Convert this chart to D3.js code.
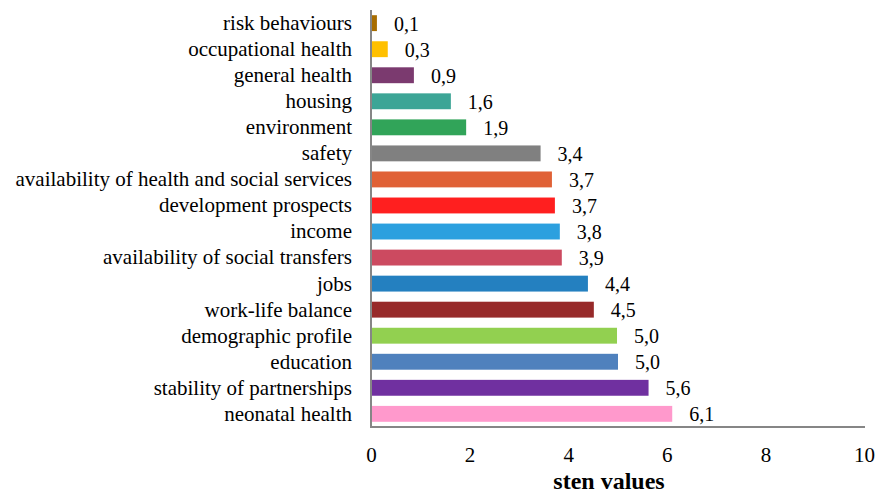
<!DOCTYPE html>
<html>
<head>
<meta charset="utf-8">
<script src="https://cdn.jsdelivr.net/npm/d3@7"></script>
<style>
  body { margin: 0; background: #fff; }
  text { font-family: "Liberation Serif", "Times New Roman", serif; fill: #000; }
</style>
</head>
<body>
<div id="chart"></div>
<script>
// categories top to bottom
const categories = [
  'risk behaviours',
  'occupational health',
  'general health',
  'housing',
  'environment',
  'safety',
  'availability of health and social services',
  'development prospects',
  'income',
  'availability of social transfers',
  'jobs',
  'work-life balance',
  'demographic profile',
  'education',
  'stability of partnerships',
  'neonatal health',
];

// sten values (labels round to one decimal)
const stenValues = [0.12, 0.34, 0.87, 1.62, 1.93, 3.44, 3.67, 3.73, 3.83, 3.87, 4.4, 4.52, 4.99, 5.01, 5.63, 6.11];

const barColors = [
  '#a86d00', '#ffc000', '#7b3a6f', '#3ca596', '#31a459', '#808080',
  '#e06136', '#ff1f1f', '#2ca0df', '#cc4a60', '#2480c0', '#972a2a',
  '#92d050', '#4f81bd', '#7030a0', '#ff99cc',
];

const xTicks = [0, 2, 4, 6, 8, 10];

const width = 881;
const height = 495;
const margin = { top: 10, right: 17, bottom: 68, left: 371 };

const svg = d3
  .select('#chart')
  .append('svg')
  .attr('width', width)
  .attr('height', height);

const x = d3
  .scaleLinear()
  .domain([0, 10])
  .range([margin.left, width - margin.right]);

const y = d3
  .scaleBand()
  .domain(categories)
  .range([margin.top, height - margin.bottom])
  .paddingInner(0.39)
  .paddingOuter(0.2);

const data = categories.map((c, i) => ({ name: c, value: stenValues[i], color: barColors[i] }));

// bars
svg
  .append('g')
  .selectAll('rect')
  .data(data)
  .enter()
  .append('rect')
  .attr('x', x(0))
  .attr('y', (d) => y(d.name))
  .attr('width', (d) => x(d.value) - x(0))
  .attr('height', y.bandwidth())
  .attr('fill', (d) => d.color);

// axis lines (gray, left + bottom only)
const axisY = height - margin.bottom;
svg
  .append('line')
  .attr('x1', x(0))
  .attr('x2', x(10) + 1)
  .attr('y1', axisY)
  .attr('y2', axisY)
  .attr('stroke', '#868686')
  .attr('stroke-width', 2);

svg
  .append('line')
  .attr('x1', x(0))
  .attr('x2', x(0))
  .attr('y1', margin.top)
  .attr('y2', axisY + 1)
  .attr('stroke', '#868686')
  .attr('stroke-width', 2);

// x tick labels
const xAxis = svg
  .append('g')
  .attr('transform', `translate(0,${axisY})`)
  .call(d3.axisBottom(x).tickValues(xTicks).tickSize(0).tickPadding(20));
xAxis.select('.domain').remove();
xAxis
  .selectAll('text')
  .style('font-family', '"Liberation Serif", "Times New Roman", serif')
  .style('font-size', '21px')
  .attr('fill', '#000');

// category labels
svg
  .append('g')
  .selectAll('text')
  .data(data)
  .enter()
  .append('text')
  .attr('x', 352)
  .attr('y', (d) => y(d.name) + y.bandwidth() / 2)
  .attr('dy', '0.33em')
  .attr('text-anchor', 'end')
  .style('font-size', '21px')
  .text((d) => d.name);

// value labels
const fmt = d3.format('.1f');
svg
  .append('g')
  .selectAll('text')
  .data(data)
  .enter()
  .append('text')
  .attr('x', (d) => x(d.value) + 17)
  .attr('y', (d) => y(d.name) + y.bandwidth() / 2)
  .attr('dy', '0.38em')
  .style('font-size', '20px')
  .text((d) => fmt(d.value).replace('.', ','));

// axis title
svg
  .append('text')
  .attr('x', 609)
  .attr('y', 489)
  .attr('text-anchor', 'middle')
  .style('font-size', '24px')
  .style('font-weight', 'bold')
  .text('sten values');
</script>
</body>
</html>
